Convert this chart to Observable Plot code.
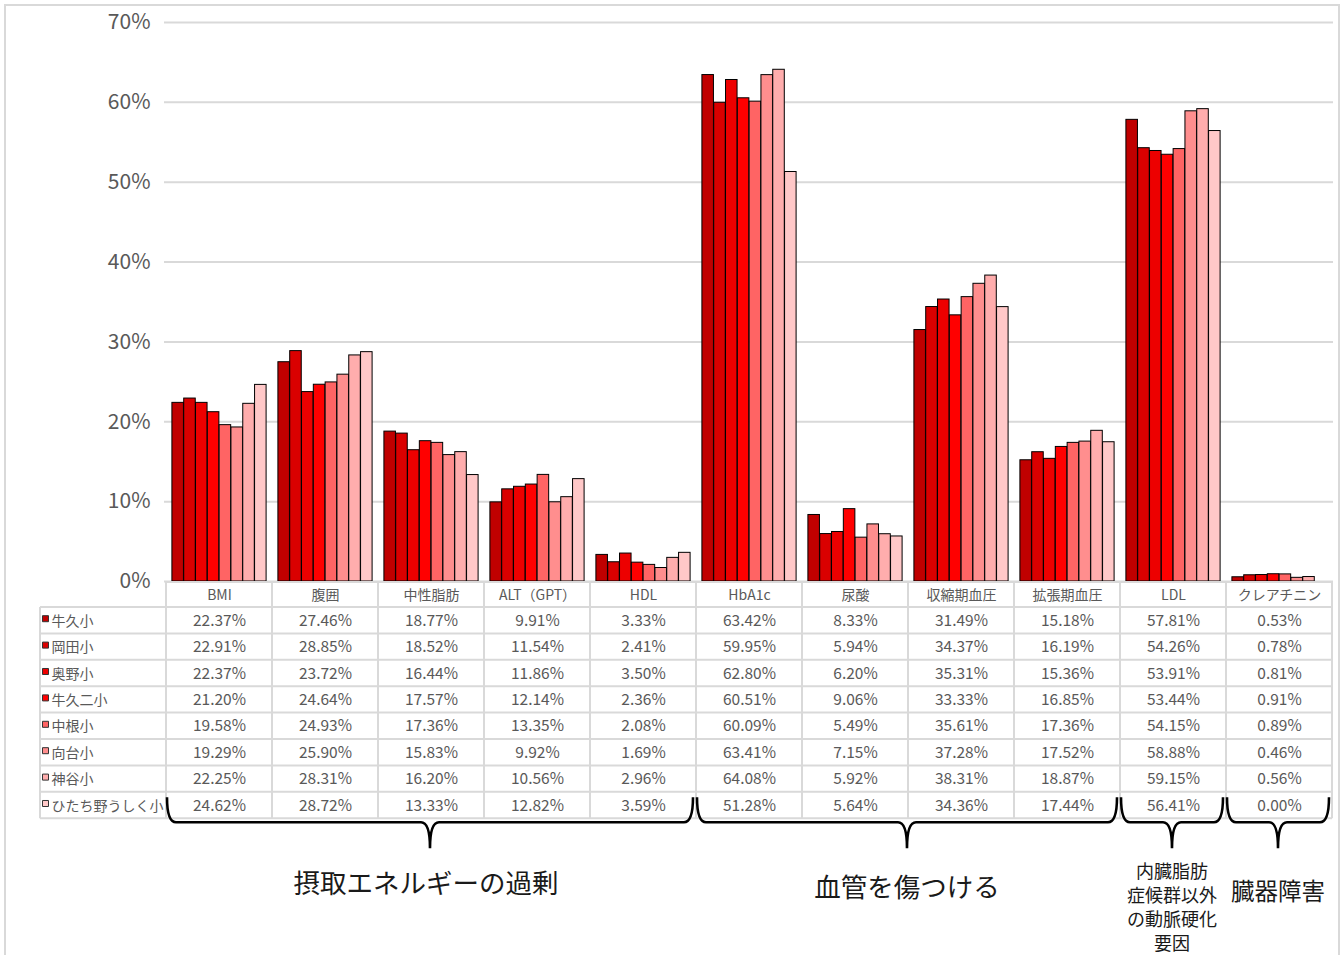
<!DOCTYPE html>
<html><head><meta charset="utf-8">
<script src="https://cdn.jsdelivr.net/npm/d3@7"></script>
<script src="https://cdn.jsdelivr.net/npm/@observablehq/plot@0.6"></script>
<style>
body{margin:0;background:#fff;}
#wrap{position:relative;width:1341px;height:955px;overflow:hidden;background:#fff;}
#wrap svg{position:absolute;left:0;top:0;}
#border{position:absolute;left:4px;top:4px;width:1336px;height:975px;border:2px solid #d9d9d9;box-sizing:border-box;pointer-events:none;}
</style></head><body><div id="wrap"></div>
<script>
// ---- data ----
const categories = ["BMI","腹囲","中性脂肪","ALT（GPT）","HDL","HbA1c","尿酸","収縮期血圧","拡張期血圧","LDL","クレアチニン"];
const schools = ["牛久小","岡田小","奥野小","牛久二小","中根小","向台小","神谷小","ひたち野うしく小"];
const colors = ["#c00000","#da0000","#ed0000","#ff0000","#ff6464","#ff8e8e","#ffadad","#ffc8c8"];
const ushiku     = [22.37,27.46,18.77, 9.91,3.33,63.42,8.33,31.49,15.18,57.81,0.53];
const okada      = [22.91,28.85,18.52,11.54,2.41,59.95,5.94,34.37,16.19,54.26,0.78];
const okuno      = [22.37,23.72,16.44,11.86,3.50,62.80,6.20,35.31,15.36,53.91,0.81];
const ushiku2    = [21.20,24.64,17.57,12.14,2.36,60.51,9.06,33.33,16.85,53.44,0.91];
const nakane     = [19.58,24.93,17.36,13.35,2.08,60.09,5.49,35.61,17.36,54.15,0.89];
const mukaidai   = [19.29,25.90,15.83, 9.92,1.69,63.41,7.15,37.28,17.52,58.88,0.46];
const kamiya     = [22.25,28.31,16.20,10.56,2.96,64.08,5.92,38.31,18.87,59.15,0.56];
const hitachino  = [24.62,28.72,13.33,12.82,3.59,51.28,5.64,34.36,17.44,56.41,0.00];
const seriesValues = [ushiku, okada, okuno, ushiku2, nakane, mukaidai, kamiya, hitachino];
const yTicks = [0,0.1,0.2,0.3,0.4,0.5,0.6,0.7];
const groupLabels = ["摂取エネルギーの過剰","血管を傷つける","内臓脂肪\n症候群以外\nの動脈硬化\n要因","臓器障害"];
const groupFirst = ["BMI","HbA1c","LDL","クレアチニン"];
const groupLast  = ["HDL","拡張期血圧","LDL","クレアチニン"];

// ---- layout ----
const W = 1341, H = 955, mL = 164, mR = 8, mT = 22, mB = 374;
const band = (W - mL - mR) / categories.length;
const barW = band / 9;
const inset = (band - barW) / 2;
const rowH = 26.4, headH = 26, textShift = 5;
const FONT = "'Noto Sans CJK JP','Noto Sans',sans-serif";
const labelSize = [26.5, 26.5, 18, 23.5];
const labelY = [68, 72, 55, 75];

const marks = [];
marks.push(Plot.gridY({ticks: yTicks, stroke: "#d9d9d9", strokeOpacity: 1, strokeWidth: 2}));
marks.push(Plot.axisY({ticks: yTicks, tickFormat: d3.format(".0%"), tickSize: 0, tickPadding: 14, fontSize: 21, label: null, fill: "#595959"}));

seriesValues.forEach((vals, i) => {
  marks.push(Plot.barY(categories.map((c, j) => ({category: c, value: vals[j] / 100})), {
    x: "category", y: "value", fill: colors[i], stroke: "#000", strokeWidth: 1,
    insetLeft: inset, insetRight: inset, dx: (i - 3.5) * barW
  }));
});

// table grid + braces + group labels
marks.push((index, scales, values, dim) => {
  const x = scales.x, bw = x.bandwidth();
  const top = dim.height - dim.marginBottom;
  const xs = x(categories[0]), xe = x(categories[categories.length - 1]) + bw;
  const xl = xs - 126;
  const g = d3.create("svg:g");
  const grid = g.append("g").attr("stroke", "#d9d9d9").attr("stroke-width", 2).attr("fill", "none");
  const headBottom = top + headH;
  const bottom = headBottom + rowH * schools.length;
  grid.append("line").attr("x1", xs).attr("x2", xe).attr("y1", top + 1).attr("y2", top + 1);
  for (let k = 0; k <= schools.length; k++) {
    const yy = headBottom + rowH * k;
    grid.append("line").attr("x1", xl).attr("x2", xe).attr("y1", yy).attr("y2", yy);
  }
  categories.forEach(c => {
    grid.append("line").attr("x1", x(c)).attr("x2", x(c)).attr("y1", top).attr("y2", bottom);
  });
  grid.append("line").attr("x1", xe).attr("x2", xe).attr("y1", top).attr("y2", bottom);
  grid.append("line").attr("x1", xl).attr("x2", xl).attr("y1", headBottom).attr("y2", bottom);

  const br = g.append("g").attr("stroke", "#000").attr("stroke-width", 2.6).attr("fill", "none");
  const yT = bottom - 21, yM = bottom + 4, yB = bottom + 30, r = 9;
  groupFirst.forEach((f, k) => {
    const a = x(f) + 1, b = x(groupLast[k]) + bw - 3, m = (a + b) / 2;
    const p = d3.path();
    p.moveTo(a, yT);
    p.quadraticCurveTo(a, yM, a + r, yM);
    p.lineTo(m - r, yM);
    p.quadraticCurveTo(m, yM, m, yB);
    p.quadraticCurveTo(m, yM, m + r, yM);
    p.lineTo(b - r, yM);
    p.quadraticCurveTo(b, yM, b, yT);
    br.append("path").attr("d", p.toString());
    const lines = groupLabels[k].split("\n");
    const lh = 24;
    const y0 = bottom + labelY[k];
    const cx = k === 0 ? m - 4 : m;
    const t = g.append("text").attr("font-family", FONT).attr("font-size", labelSize[k]).attr("fill", "#1a1a1a")
      .attr("text-anchor", "middle");
    lines.forEach((ln, li) => {
      t.append("tspan").attr("x", cx).attr("y", y0 + li * lh).attr("dominant-baseline", "middle").text(ln);
    });
  });
  return g.node();
});

// header row
marks.push(Plot.text(categories, {x: d => d, text: d => d, frameAnchor: "bottom", dy: 14 + textShift - 1, fontSize: 14, fill: "#595959"}));
// data rows
seriesValues.forEach((vals, r) => {
  const dy = headH + rowH * r + rowH / 2;
  marks.push(Plot.text(categories.map((c, j) => ({category: c, v: vals[j]})), {
    x: "category", text: d => d.v.toFixed(2) + "%", frameAnchor: "bottom", dy: dy + textShift, fontSize: 15.5, fill: "#595959"
  }));
  marks.push(Plot.text([schools[r]], {text: d => d, frameAnchor: "bottom-left", dx: -113, dy: dy + textShift, textAnchor: "start", fontSize: 14, fill: "#595959"}));
  marks.push(Plot.dot([schools[r]], {frameAnchor: "bottom-left", dx: -119, dy: dy - 2, symbol: "square", r: 3.4, fill: colors[r], stroke: "#333", strokeWidth: 1}));
});

const chart = Plot.plot({
  width: W, height: H,
  marginLeft: mL, marginRight: mR, marginTop: mT, marginBottom: mB,
  style: {fontFamily: FONT, color: "#595959", background: "transparent"},
  x: {domain: categories, padding: 0, axis: null},
  y: {domain: [0, 0.7], axis: null},
  marks
});
const wrap = document.getElementById("wrap");
wrap.appendChild(chart);
const bd = document.createElement("div");
bd.id = "border";
wrap.appendChild(bd);
</script>
</body></html>
